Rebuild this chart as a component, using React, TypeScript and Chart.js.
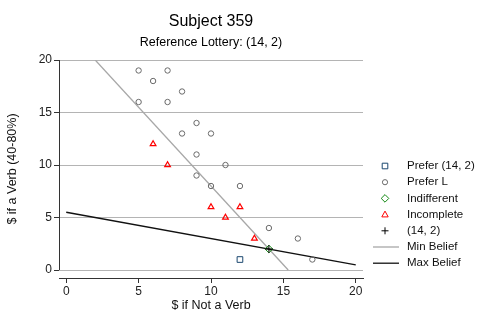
import React, { useEffect, useRef } from 'react';
import { Chart, registerables } from 'chart.js';

Chart.register(...registerables);

const titleText = 'Subject 359';
const subtitleText = 'Reference Lottery: (14, 2)';
const xTitle = '$ if Not a Verb';
const yTitle = '$ if a Verb (40-80%)';
const xTicks = [0, 5, 10, 15, 20];
const yTicks = [0, 5, 10, 15, 20];

const preferRefX = [12];
const preferRefY = [1];
const preferLX = [5, 7, 6, 8, 5, 7, 9, 8, 10, 9, 11, 9, 10, 12, 14, 16, 17];
const preferLY = [19, 19, 18, 17, 16, 16, 14, 13, 13, 11, 10, 9, 8, 8, 4, 3, 1];
const indifferentX = [14];
const indifferentY = [2];
const incompleteX = [6, 7, 10, 12, 11, 13];
const incompleteY = [12, 10, 6, 6, 5, 3];
const refX = [14];
const refY = [2];
const minBeliefX = [2, 15.333];
const minBeliefY = [20, 0];
const maxBeliefX = [0, 20];
const maxBeliefY = [5.5, 0.5];

const legendLabels = ['Prefer (14, 2)', 'Prefer L', 'Indifferent', 'Incomplete', '(14, 2)', 'Min Belief', 'Max Belief'];

const FONT = "'Liberation Sans', Arial, Helvetica, sans-serif";
const C_SQUARE = '#1a476f';
const C_CIRCLE = '#6a6a6a';
const C_DIAMOND = '#118811';
const C_TRI = '#ff0000';
const C_PLUS = '#000000';
const C_MIN = '#a8a8a8';
const C_MAX = '#111111';

const pts = (xs: number[], ys: number[]) => xs.map((x, i) => ({ x, y: ys[i] }));

function drawMarker(ctx: CanvasRenderingContext2D, kind: string, x: number, y: number, color: string) {
  ctx.save();
  ctx.strokeStyle = color;
  ctx.lineWidth = 1;
  ctx.beginPath();
  if (kind === 'rect') {
    ctx.rect(x - 2.8, y - 2.8, 5.6, 5.6);
  } else if (kind === 'circle') {
    ctx.arc(x, y, 2.6, 0, Math.PI * 2);
  } else if (kind === 'rectRot') {
    ctx.moveTo(x, y - 3.8);
    ctx.lineTo(x + 3.8, y);
    ctx.lineTo(x, y + 3.8);
    ctx.lineTo(x - 3.8, y);
    ctx.closePath();
  } else if (kind === 'triangle') {
    ctx.moveTo(x, y - 3.5);
    ctx.lineTo(x + 3.2, y + 2.3);
    ctx.lineTo(x - 3.2, y + 2.3);
    ctx.closePath();
  } else if (kind === 'cross') {
    ctx.moveTo(x - 3.5, y);
    ctx.lineTo(x + 3.5, y);
    ctx.moveTo(x, y - 3.5);
    ctx.lineTo(x, y + 3.5);
  }
  ctx.stroke();
  ctx.restore();
}

const legendPlugin = {
  id: 'customLegend',
  afterDraw(chart: any) {
    const ctx: CanvasRenderingContext2D = chart.ctx;
    const area = chart.chartArea;
    const mx = area.right + 22;
    const tx = area.right + 44;
    const y0 = 166;
    const dy = 16.2;
    const kinds = ['rect', 'circle', 'rectRot', 'triangle', 'cross', 'line', 'line'];
    const colors = [C_SQUARE, C_CIRCLE, C_DIAMOND, C_TRI, C_PLUS, C_MIN, C_MAX];
    ctx.save();
    legendLabels.forEach((lab, i) => {
      const y = y0 + i * dy;
      if (kinds[i] === 'line') {
        ctx.save();
        ctx.strokeStyle = colors[i];
        ctx.lineWidth = 1.3;
        ctx.beginPath();
        ctx.moveTo(area.right + 10, y);
        ctx.lineTo(area.right + 36, y);
        ctx.stroke();
        ctx.restore();
      } else {
        drawMarker(ctx, kinds[i], mx, y, colors[i]);
      }
      ctx.fillStyle = '#111';
      ctx.font = `11.5px ${FONT}`;
      ctx.textAlign = 'left';
      ctx.textBaseline = 'middle';
      ctx.fillText(lab, tx, y);
    });
    ctx.restore();
  },
};

const yAxisLinePlugin = {
  id: 'yAxisLine',
  afterDraw(chart: any) {
    const ctx: CanvasRenderingContext2D = chart.ctx;
    const ys = chart.scales.y;
    const x = chart.chartArea.left;
    ctx.save();
    ctx.strokeStyle = '#333';
    ctx.lineWidth = 1;
    ctx.beginPath();
    ctx.moveTo(x + 0.5, ys.getPixelForValue(yTicks[yTicks.length - 1]));
    ctx.lineTo(x + 0.5, ys.getPixelForValue(yTicks[0]));
    ctx.stroke();
    ctx.restore();
  },
};

export default function App() {
  const ref = useRef<HTMLCanvasElement | null>(null);
  useEffect(() => {
    document.body.style.margin = '0';
    const canvas = ref.current!;
    Chart.defaults.font.family = FONT;
    const chart = new Chart(canvas, {
      type: 'scatter',
      data: {
        datasets: [
          {
            label: legendLabels[4], data: pts(refX, refY), pointStyle: 'cross', pointRadius: 4,
            borderColor: C_PLUS, backgroundColor: 'transparent', pointBorderWidth: 1,
          },
          {
            label: legendLabels[2], data: pts(indifferentX, indifferentY), pointStyle: 'rectRot', pointRadius: 3.8,
            borderColor: C_DIAMOND, backgroundColor: 'transparent', pointBorderWidth: 1,
          },
          {
            label: legendLabels[0], data: pts(preferRefX, preferRefY), pointStyle: 'rect', pointRadius: 4,
            borderColor: C_SQUARE, backgroundColor: 'transparent', pointBorderWidth: 1,
          },
          {
            label: legendLabels[1], data: pts(preferLX, preferLY), pointStyle: 'circle', pointRadius: 2.7,
            borderColor: C_CIRCLE, backgroundColor: 'transparent', pointBorderWidth: 1,
          },
          {
            label: legendLabels[3], data: pts(incompleteX, incompleteY), pointStyle: 'triangle', pointRadius: 3.3,
            borderColor: C_TRI, backgroundColor: 'transparent', pointBorderWidth: 1.2,
          },
          {
            label: legendLabels[6], data: pts(maxBeliefX, maxBeliefY), showLine: true, pointRadius: 0,
            borderColor: C_MAX, borderWidth: 1.3,
          },
          {
            label: legendLabels[5], data: pts(minBeliefX, minBeliefY), showLine: true, pointRadius: 0,
            borderColor: C_MIN, borderWidth: 1.3,
          },
        ],
      },
      options: {
        responsive: false,
        animation: false,
        devicePixelRatio: 1,
        layout: { padding: { left: 0, right: 135, top: 0, bottom: 0 } },
        plugins: {
          legend: { display: false },
          tooltip: { enabled: false },
          title: {
            display: true, text: titleText, fullSize: false, color: '#000',
            font: { size: 16, weight: 'normal', family: FONT, lineHeight: 1.2 },
            padding: { top: 12, bottom: 0 },
          },
          subtitle: {
            display: true, text: subtitleText, fullSize: false, color: '#000',
            font: { size: 12.5, weight: 'normal', family: FONT, lineHeight: 1.2 },
            padding: { top: 4.3, bottom: 9.5 },
          },
        },
        scales: {
          x: {
            type: 'linear', min: -0.5, max: 20.5,
            afterFit: (s: any) => { s.height = 54; },
            afterBuildTicks: (s: any) => { s.ticks = xTicks.map((v) => ({ value: v })); },
            grid: { drawOnChartArea: false, drawTicks: true, tickLength: 5, color: '#333', tickColor: '#333' },
            border: { display: true, color: '#333', width: 1 },
            ticks: { color: '#222', font: { size: 12, family: FONT }, padding: 1, maxRotation: 0, autoSkip: false },
            title: {
              display: true, text: xTitle, color: '#111',
              font: { size: 12.5, family: FONT, lineHeight: 1.2 },
              padding: { top: 0, bottom: 18.5 },
            },
          },
          y: {
            type: 'linear', min: -0.76, max: 20,
            afterFit: (s: any) => { s.width = 59; },
            afterBuildTicks: (s: any) => { s.ticks = yTicks.map((v) => ({ value: v })); },
            grid: { drawOnChartArea: true, drawTicks: true, tickLength: 5, color: '#b4b4b4', tickColor: '#333' },
            border: { display: false },
            ticks: { color: '#222', font: { size: 12, family: FONT }, padding: 2 },
            title: {
              display: true, text: yTitle, color: '#111',
              font: { size: 12.5, family: FONT, lineHeight: 1.2 },
              padding: { top: 5.5, bottom: 0 },
            },
          },
        },
      },
      plugins: [legendPlugin, yAxisLinePlugin],
    } as any);
    return () => chart.destroy();
  }, []);
  return (
    <div style={{ position: 'fixed', left: 0, top: 0, width: 498, height: 332, background: '#fff' }}>
      <canvas ref={ref} width={498} height={332} style={{ display: 'block' }} />
    </div>
  );
}
